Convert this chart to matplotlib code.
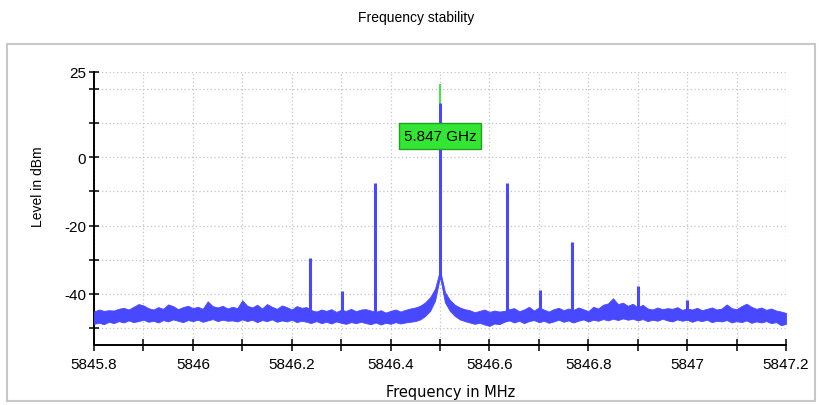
import numpy as np
import matplotlib.pyplot as plt
from matplotlib.patches import Rectangle

plt.rcParams['font.family'] = ['Liberation Sans', 'DejaVu Sans']

# noise floor envelope of the trace, read every 0.01 MHz from 5845.80 to 5847.20
freq_start = 5845.80
freq_step = 0.01
floor_upper = [
    -45.2, -44.6, -45.0, -44.8, -44.9, -44.4, -44.1, -44.6, -43.8, -43.0,
    -43.4, -44.2, -44.6, -43.9, -44.4, -43.1, -43.6, -44.5, -43.9, -43.5,
    -44.2, -43.8, -44.4, -42.2, -43.6, -44.0, -43.5, -44.3,
    -43.8, -44.2, -41.9, -43.5, -44.0, -43.2, -44.3, -43.0, -43.8, -44.4,
    -43.4, -43.9, -44.6, -43.6, -44.1, -43.9, -44.8, -45.2, -44.6, -45.0,
    -44.5, -45.3, -44.7, -45.0, -44.4, -45.1, -44.6,
    -44.5, -44.9, -45.3, -44.8, -45.5, -45.0, -44.6, -45.2, -44.7, -44.3,
    -44.0, -43.5, -42.5, -41.0, -38.5, -33.0, -39.5, -41.8, -43.2, -44.0, -44.5,
    -44.8, -45.4, -45.0, -44.6, -45.3, -44.9, -45.2,
    -45.0, -44.5, -44.2, -45.1, -44.6, -43.8, -44.9, -44.0, -44.6, -45.2,
    -44.5, -44.1, -44.8, -44.3, -44.7, -44.0, -44.5, -45.1, -43.8, -44.3,
    -43.2, -42.8, -41.3, -43.0, -42.6, -43.5, -42.9,
    -44.0, -43.2, -44.3, -44.6, -44.0, -44.5, -44.2, -44.4, -43.9, -44.7,
    -44.3, -44.6, -44.1, -44.8, -44.4, -44.0, -44.6, -44.3, -43.1, -44.2,
    -44.5, -43.6, -42.9, -43.8, -44.4, -44.0, -44.7, -44.3, -44.9, -45.2, -45.6,
]
floor_lower = [
    -48.8, -48.5, -48.9, -48.2, -48.6, -48.0, -48.4, -47.8, -48.3, -48.0,
    -47.6, -48.2, -47.9, -48.4, -47.7, -48.1, -47.5, -47.9, -48.3, -47.7,
    -48.0, -47.6, -48.2, -47.8, -47.4, -48.0, -47.6, -47.9,
    -47.8, -48.1, -47.5, -48.0, -47.6, -48.3, -47.7, -48.0, -47.5, -48.2,
    -47.8, -48.1, -47.6, -48.3, -47.9, -48.2, -48.5, -48.0, -48.6, -48.2,
    -48.7, -48.1, -48.5, -48.8, -48.3, -48.6, -48.2,
    -48.6, -48.9, -48.4, -49.0, -48.5, -48.8, -48.3, -48.7, -48.4, -48.2,
    -48.0, -47.5, -46.5, -45.0, -42.0, -35.0, -42.5, -45.0, -46.5, -47.5, -48.0,
    -48.4, -48.8, -48.5, -49.0, -49.4, -48.7, -48.9,
    -48.2, -47.8, -48.4, -47.9, -48.6, -48.0, -47.7, -48.3, -47.9, -48.5,
    -48.1, -47.6, -48.2, -47.8, -48.4, -47.9, -47.5, -48.1, -47.6, -47.9,
    -47.4, -47.8, -47.3, -47.7, -47.2, -47.6, -47.3,
    -47.8, -47.4, -48.0, -47.6, -47.9, -47.3, -47.8, -48.1, -47.5, -47.9,
    -47.6, -48.2, -47.7, -48.0, -47.6, -48.3, -47.9, -48.1, -47.7, -48.4,
    -48.0, -48.3, -47.8, -48.5, -48.1, -48.4, -48.0, -48.6, -48.3, -49.2, -48.8,
]

# discrete spurs / carrier on top of the noise floor
spike_freqs = [5846.236, 5846.302, 5846.368, 5846.5, 5846.636, 5846.702, 5846.768, 5846.90, 5847.00]
spike_levels = [-29.5, -39.3, -7.5, 16.0, -7.5, -38.8, -24.8, -37.8, -41.8]

# max-hold marker trace (green) on the carrier
marker_freq = 5846.5
marker_level = 21.5
marker_text = "5.847 GHz"

x_ticks = [5845.8, 5845.9, 5846.0, 5846.1, 5846.2, 5846.3, 5846.4, 5846.5,
           5846.6, 5846.7, 5846.8, 5846.9, 5847.0, 5847.1, 5847.2]
x_labels = ["5845.8", "", "5846", "", "5846.2", "", "5846.4", "", "5846.6",
            "", "5846.8", "", "5847", "", "5847.2"]
y_ticks = [25, 20, 10, 0, -10, -20, -30, -40, -50]
y_labels = ["25", "", "", "0", "", "-20", "", "-40", ""]

blue = "#4848ff"
green = "#33e633"

fig = plt.figure(figsize=(8.19, 4.06), dpi=100)
ax = fig.add_axes([94 / 819, 1 - 346 / 406, 692 / 819, 273 / 406])

freqs = freq_start + freq_step * np.arange(len(floor_upper))
ax.fill_between(freqs, floor_lower, floor_upper, color=blue,
                linewidth=0.6, edgecolor=blue, zorder=3)

for f, lvl in zip(spike_freqs, spike_levels):
    i = int(round((f - freq_start) / freq_step))
    base = floor_lower[i]
    if f == marker_freq:
        ax.vlines(f, base, marker_level, color=green, linewidth=1.3, zorder=3)
    ax.vlines(f, base, lvl, color=blue, linewidth=2.2, zorder=4)

# marker label box
ax.add_patch(Rectangle((5846.417, 2.4), 0.166, 7.6, facecolor=green,
                       edgecolor="#22a022", linewidth=1.0, zorder=5))
ax.text(marker_freq, 6.2, marker_text, ha="center", va="center",
        fontsize=11, color="black", zorder=6)

ax.set_xlim(5845.8, 5847.2)
ax.set_ylim(-55, 25)
ax.set_xticks(x_ticks)
ax.set_xticklabels(x_labels)
ax.set_yticks(y_ticks)
ax.set_yticklabels(y_labels)
ax.tick_params(axis="x", direction="inout", length=8, width=1.1, pad=5, labelsize=11)
ax.tick_params(axis="y", direction="inout", length=7, width=1.1, pad=2, labelsize=11)

ax.grid(True, color="#c4c4c4", linestyle=(0, (1, 2)), linewidth=0.9, zorder=0)
ax.set_axisbelow(True)

for side in ["top", "right"]:
    ax.spines[side].set_visible(False)
for side in ["left", "bottom"]:
    ax.spines[side].set_linewidth(1.4)
    ax.spines[side].set_color("black")

ax.set_ylabel("Level in dBm", fontsize=10)
ax.yaxis.set_label_coords(-0.071, 0.582)
ax.set_xlabel("Frequency in MHz", fontsize=10.5, family=["DejaVu Sans"])
ax.xaxis.label.set_verticalalignment("center")
ax.xaxis.set_label_coords(0.516, -0.172)

fig.text(416 / 819, 1 - 18 / 406, "Frequency stability", ha="center", va="center", fontsize=10)

fig.patches.append(Rectangle((7 / 819, 4 / 406), 808 / 819, 357 / 406,
                             transform=fig.transFigure, fill=False,
                             edgecolor="#c8c8c8", linewidth=1.5))

fig.savefig("out.png", dpi=100)
